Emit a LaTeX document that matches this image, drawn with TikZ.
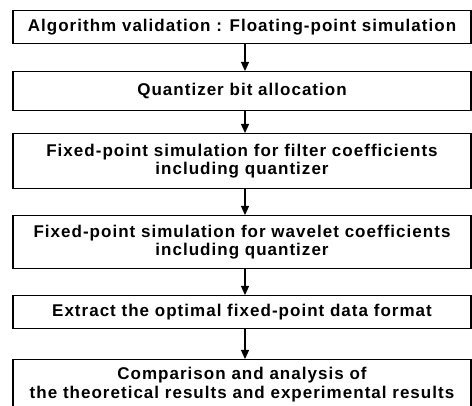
\documentclass[tikz,border=0pt]{standalone}
\usepackage{fontspec}
\setmainfont{Liberation Sans}[LetterSpace=6]
\usetikzlibrary{arrows.meta}
\begin{document}
\begin{tikzpicture}[x=1pt,y=-1pt,
  stage/.style={draw=black,line width=1.2pt,minimum width=458pt,inner sep=0pt,
    font=\fontsize{17}{18.5}\selectfont\bfseries,align=center,anchor=north},
  flow/.style={line width=1.2pt,-{Triangle[length=9pt,width=8pt]}}]
\path[use as bounding box] (0,0) rectangle (472,406);
\clip (0,0) rectangle (472,406);
\node[stage,minimum height=33pt] (b1) at (242,10) {Algorithm validation : Floating-point simulation};
\node[stage,minimum height=39pt] (b2) at (242,71) {Quantizer bit allocation};
\node[stage,minimum height=55pt] (b3) at (242,133) {Fixed-point simulation for filter coefficients\\including quantizer};
\node[stage,minimum height=53pt] (b4) at (242,215) {Fixed-point simulation for wavelet coefficients\\including quantizer};
\node[stage,minimum height=33pt] (b5) at (242,295) {Extract the optimal fixed-point data format};
\node[stage,minimum height=60pt,text depth=14pt] (b6) at (242,359) {Comparison and analysis of\\the theoretical results and experimental results};
\draw[flow] (b1.south -| 245,0) -- (b2.north -| 245,0);
\draw[flow] (b2.south -| 245,0) -- (b3.north -| 245,0);
\draw[flow] (b3.south -| 245,0) -- (b4.north -| 245,0);
\draw[flow] (b4.south -| 245,0) -- (b5.north -| 245,0);
\draw[flow] (b5.south -| 245,0) -- (b6.north -| 245,0);
\end{tikzpicture}
\end{document}
